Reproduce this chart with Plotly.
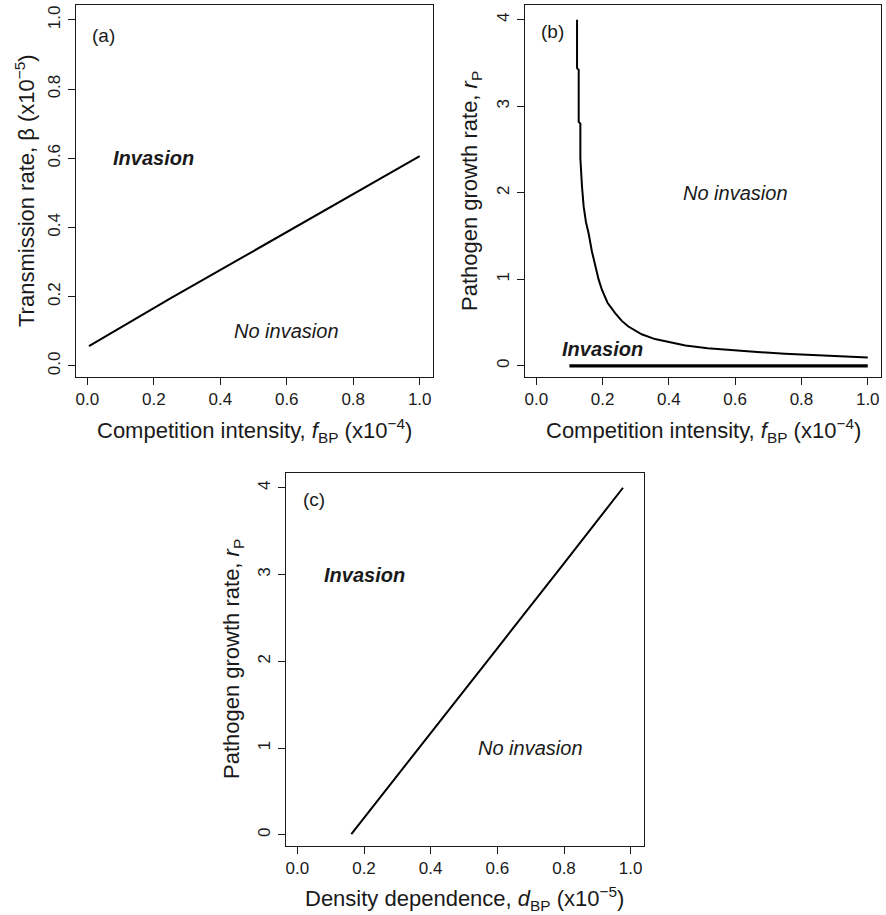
import plotly.graph_objects as go

# ---------------- data ----------------
# Panel (a): invasion threshold, transmission rate vs competition intensity
a_x = [0.005, 0.25, 0.5, 0.75, 1.0]
a_y = [0.057, 0.195, 0.332, 0.469, 0.606]

# Panel (b): threshold pathogen growth rate vs competition intensity
b_x = [0.123, 0.123, 0.128, 0.128, 0.133, 0.133, 0.138, 0.143, 0.150, 0.158,
       0.168, 0.178, 0.188, 0.198, 0.215, 0.238, 0.258, 0.278, 0.318, 0.358,
       0.398, 0.45, 0.517, 0.60, 0.677, 0.75, 0.817, 0.90, 1.0]
b_y = [4.0, 3.44, 3.42, 2.82, 2.80, 2.40, 2.07, 1.84, 1.66, 1.53,
       1.32, 1.15, 1.00, 0.88, 0.73, 0.61, 0.52, 0.455, 0.366, 0.31,
       0.274, 0.235, 0.204, 0.178, 0.158, 0.14, 0.127, 0.112, 0.096]
b_base_x = [0.1, 1.0]
b_base_y = [0.0, 0.0]

# Panel (c): threshold pathogen growth rate vs density dependence
c_x = [0.162, 0.40, 0.60, 0.80, 0.977]
c_y = [0.01, 1.18, 2.15, 3.13, 4.0]

x_ticks = [0.0, 0.2, 0.4, 0.6, 0.8, 1.0]
a_yticks = [0.0, 0.2, 0.4, 0.6, 0.8, 1.0]
r_yticks = [0, 1, 2, 3, 4]

FONT = "Liberation Sans, Arial, Helvetica, sans-serif"
INK = "#1a1a1a"

fig = go.Figure()
fig.add_trace(go.Scatter(x=a_x, y=a_y, mode="lines", line=dict(color="black", width=2),
                         xaxis="x", yaxis="y", showlegend=False, hoverinfo="skip"))
fig.add_trace(go.Scatter(x=b_x, y=b_y, mode="lines", line=dict(color="black", width=2, shape="linear"),
                         xaxis="x2", yaxis="y2", showlegend=False, hoverinfo="skip"))
fig.add_trace(go.Scatter(x=b_base_x, y=b_base_y, mode="lines", line=dict(color="black", width=3.2),
                         xaxis="x2", yaxis="y2", showlegend=False, hoverinfo="skip"))
fig.add_trace(go.Scatter(x=c_x, y=c_y, mode="lines", line=dict(color="black", width=2),
                         xaxis="x3", yaxis="y3", showlegend=False, hoverinfo="skip"))

W, H = 886, 915


def px_dom_x(l, r):
    return [l / W, r / W]


def px_dom_y(t, b):
    return [1 - b / H, 1 - t / H]


TICKSIZE = 17


def xax(dom, anchor):
    return dict(domain=dom, anchor=anchor, range=[-0.034, 1.04], tickvals=x_ticks,
                ticktext=[f"{v:.1f}" for v in x_ticks],
                ticks="outside", ticklen=7, tickwidth=1, tickcolor=INK,
                showline=True, mirror=True, linecolor=INK, linewidth=1,
                showgrid=False, zeroline=False, ticklabelstandoff=0,
                tickfont=dict(size=TICKSIZE, color=INK, family=FONT))


def yax(dom, anchor, rng, vals, fmt):
    return dict(domain=dom, anchor=anchor, range=rng, tickvals=vals,
                ticktext=[fmt(v) for v in vals], tickangle=-90,
                ticks="outside", ticklen=7, tickwidth=1, tickcolor=INK,
                showline=True, mirror=True, linecolor=INK, linewidth=1,
                showgrid=False, zeroline=False, ticklabelstandoff=1,
                tickfont=dict(size=TICKSIZE, color=INK, family=FONT))


fig.update_layout(
    width=W, height=H, margin=dict(l=0, r=0, t=0, b=0),
    paper_bgcolor="white", plot_bgcolor="white",
    font=dict(family=FONT, color=INK),
    xaxis=xax(px_dom_x(76, 433), "y"),
    yaxis=yax(px_dom_y(5, 377), "x", [-0.032, 1.043], a_yticks, lambda v: f"{v:.1f}"),
    xaxis2=xax(px_dom_x(525, 881), "y2"),
    yaxis2=yax(px_dom_y(5, 377), "x2", [-0.128, 4.17], r_yticks, lambda v: f"{v:d}"),
    xaxis3=xax(px_dom_x(286, 644), "y3"),
    yaxis3=yax(px_dom_y(473, 846), "x3", [-0.128, 4.17], r_yticks, lambda v: f"{v:d}"),
)

ann = []


def txt(x, y, xref, yref, text, size=20, **kw):
    d = dict(x=x, y=y, xref=xref, yref=yref, text=text, showarrow=False,
             xanchor="center", yanchor="middle",
             font=dict(size=size, color=INK, family=FONT))
    d.update(kw)
    ann.append(d)


# panel labels and region labels
txt(0.05, 0.955, "x", "y", "(a)", size=19)
txt(0.2, 0.6, "x", "y", "<b><i>Invasion</i></b>")
txt(0.6, 0.1, "x", "y", "<i>No invasion</i>")

txt(0.05, 3.86, "x2", "y2", "(b)", size=19)
txt(0.6, 2.0, "x2", "y2", "<i>No invasion</i>")
txt(0.2, 0.2, "x2", "y2", "<b><i>Invasion</i></b>")

txt(0.05, 3.86, "x3", "y3", "(c)", size=19)
txt(0.2, 3.0, "x3", "y3", "<b><i>Invasion</i></b>")
txt(0.7, 1.0, "x3", "y3", "<i>No invasion</i>")

# axis titles
TS = 22
xt = "Competition intensity, <i>f</i><sub>BP</sub> (x10<sup>\u22124</sup>)"
txt((76 + 433) / 2 / W, 1 - 430 / H, "paper", "paper", xt, size=TS)
txt((525 + 881) / 2 / W, 1 - 430 / H, "paper", "paper", xt, size=TS)
txt((286 + 644) / 2 / W, 1 - 898 / H, "paper", "paper",
    "Density dependence, <i>d</i><sub>BP</sub> (x10<sup>\u22125</sup>)", size=TS)

txt(25 / W, 1 - 191 / H, "paper", "paper",
    "Transmission rate, \u03b2 (x10<sup>\u22125</sup>)", size=TS, textangle=-90)
txt(471 / W, 1 - 191 / H, "paper", "paper",
    "Pathogen growth rate, <i>r</i><sub>P</sub>", size=TS, textangle=-90)
txt(233 / W, 1 - 659 / H, "paper", "paper",
    "Pathogen growth rate, <i>r</i><sub>P</sub>", size=TS, textangle=-90)

fig.update_layout(annotations=ann)
fig.write_html("out.html")
